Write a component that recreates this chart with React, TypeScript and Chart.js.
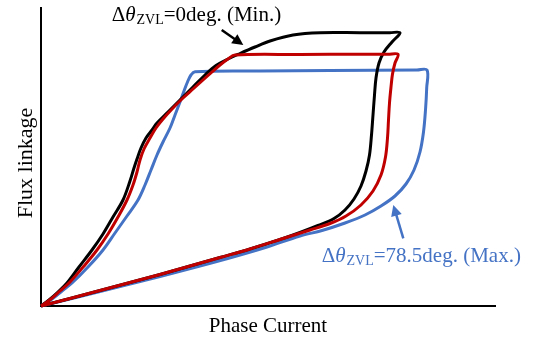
import React, { useEffect, useRef } from "react";
import { Chart, registerables } from "chart.js";

Chart.register(...registerables);

type Pt = [number, number];

// Axis extents (arbitrary units)
const xAxisMax = 454;
const yAxisMax = 298;

// Flux-linkage loops (phase current, flux linkage)
const blackLoop: Pt[] = [
  [0, 0], [8, 6], [17, 14], [26, 23], [38, 39], [51, 56], [62, 72], [72, 89], [82, 106],
  [89, 125], [93, 138], [96, 147], [100, 158], [105, 168], [111, 176], [116, 183],
  [127, 194], [139, 206], [152, 219], [164, 231], [175, 240.5], [187, 247], [199, 252.5],
  [214, 259], [229, 265], [252, 271], [279, 273.3], [319, 273.3], [349, 273.3], [359, 273.3],
  [351, 264], [343, 254], [338, 243], [335, 228], [333.5, 211], [332, 191], [330.5, 171],
  [328.5, 151], [325, 135], [320, 120], [313, 107], [304, 96], [293, 87.5], [277, 80.5],
  [259, 73.5], [242, 67.5], [209, 57], [179, 48.5], [149, 40], [119, 31.5], [89, 23.5],
  [59, 15.5], [29, 7.5], [0, 0],
];

const redLoop: Pt[] = [
  [0, 0], [10, 7], [19, 15], [29, 24], [43, 40], [56, 56], [67, 72], [77, 89], [86, 106],
  [92, 121], [96, 134], [99, 146], [103, 157], [109, 168], [115, 178], [122, 187],
  [132, 198], [142, 208], [152, 217], [162, 226], [171, 234], [179, 241], [187, 247],
  [194, 251], [259, 251.5], [319, 251.7], [347, 251.7], [357, 251.7],
  [354, 243], [351.5, 232], [350, 219], [348.5, 203], [347.5, 186], [346.5, 168],
  [344.5, 149], [340, 131], [332, 115], [320, 101], [305, 90], [289, 82.5], [269, 76],
  [242, 67.5], [209, 57], [179, 48.5], [149, 40], [119, 31.5], [89, 23.5], [59, 15.5],
  [29, 7.5], [0, 0],
];

const blueLoop: Pt[] = [
  [0, 0], [11, 7], [21, 15], [31, 23], [47, 39], [62, 56], [74, 73], [86, 90], [97, 106],
  [104, 121], [110, 136], [116, 151], [122, 164], [129, 178], [134, 191], [139, 204],
  [143, 215], [146.5, 224], [150, 231], [154, 234.2], [219, 235], [289, 235.5], [376, 236],
  [386, 236],
  [385.7, 218], [384.5, 196], [382.5, 174], [379, 154], [373, 136], [365, 122], [354, 110],
  [340, 100], [324, 91], [304, 83], [281, 75.5], [259, 70], [226, 59], [192, 49], [159, 40],
  [119, 29.5], [79, 19.5], [39, 9.5], [0, 0],
];

const xTitle = "Phase Current";
const yTitle = "Flux linkage";

const minLabel = { pre: "Δ", theta: "θ", sub: "ZVL", post: "=0deg. (Min.)" };
const maxLabel = { pre: "Δ", theta: "θ", sub: "ZVL", post: "=78.5deg. (Max.)" };

// Annotation anchors in data units
const minLabelAt: Pt = [70.7, 285.3];
const minArrow: [Pt, Pt] = [[180.7, 276], [202.3, 261]];
const maxLabelAt: Pt = [280.7, 44.3];
const maxArrow: [Pt, Pt] = [[362.3, 67.7], [352.3, 101]];

const BLACK = "#000000";
const RED = "#C00000";
const BLUE = "#4472C4";
const FONT = '"Liberation Serif", "Times New Roman", serif';

function drawLabel(ctx: CanvasRenderingContext2D, x: number, y: number, lab: any, color: string) {
  ctx.fillStyle = color;
  ctx.textAlign = "left";
  ctx.textBaseline = "alphabetic";
  ctx.font = `21px ${FONT}`;
  ctx.fillText(lab.pre, x, y);
  x += ctx.measureText(lab.pre).width;
  ctx.font = `italic 21px ${FONT}`;
  ctx.fillText(lab.theta, x, y);
  x += ctx.measureText(lab.theta).width + 1;
  ctx.font = `14px ${FONT}`;
  ctx.fillText(lab.sub, x, y + 3);
  x += ctx.measureText(lab.sub).width;
  ctx.font = `21px ${FONT}`;
  ctx.fillText(lab.post, x, y);
}

function drawArrow(ctx: CanvasRenderingContext2D, x1: number, y1: number, x2: number, y2: number, color: string) {
  const a = Math.atan2(y2 - y1, x2 - x1);
  const c = Math.cos(a), s = Math.sin(a);
  const hl = 11, hw = 5.5;
  ctx.strokeStyle = color;
  ctx.fillStyle = color;
  ctx.lineWidth = 2.5;
  ctx.beginPath();
  ctx.moveTo(x1, y1);
  ctx.lineTo(x2 - hl * 0.8 * c, y2 - hl * 0.8 * s);
  ctx.stroke();
  ctx.beginPath();
  ctx.moveTo(x2, y2);
  ctx.lineTo(x2 - hl * c + hw * s, y2 - hl * s - hw * c);
  ctx.lineTo(x2 - hl * c - hw * s, y2 - hl * s + hw * c);
  ctx.closePath();
  ctx.fill();
}

const annotPlugin = {
  id: "annot",
  afterDraw(chart: any) {
    const { ctx, chartArea, scales } = chart;
    const X = (v: number) => scales.x.getPixelForValue(v);
    const Y = (v: number) => scales.y.getPixelForValue(v);
    ctx.save();
    ctx.fillStyle = BLACK;
    ctx.font = `21px ${FONT}`;
    ctx.textAlign = "center";
    ctx.textBaseline = "alphabetic";
    ctx.fillText(xTitle, (chartArea.left + chartArea.right) / 2, chartArea.bottom + 25.7);
    ctx.save();
    ctx.font = `22px ${FONT}`;
    ctx.translate(chartArea.left - 9.5, chartArea.top + 155);
    ctx.rotate(-Math.PI / 2);
    ctx.fillText(yTitle, 0, 0);
    ctx.restore();

    drawLabel(ctx, X(minLabelAt[0]), Y(minLabelAt[1]), minLabel, BLACK);
    drawArrow(ctx, X(minArrow[0][0]), Y(minArrow[0][1]), X(minArrow[1][0]), Y(minArrow[1][1]), BLACK);
    drawLabel(ctx, X(maxLabelAt[0]), Y(maxLabelAt[1]), maxLabel, BLUE);
    drawArrow(ctx, X(maxArrow[0][0]), Y(maxArrow[0][1]), X(maxArrow[1][0]), Y(maxArrow[1][1]), BLUE);
    ctx.restore();
  },
};

const toData = (pts: Pt[]) => pts.map(([x, y]) => ({ x, y }));

export default function App() {
  const ref = useRef<HTMLCanvasElement | null>(null);
  useEffect(() => {
    if (!ref.current) return;
    const mk = (data: Pt[], color: string) => ({
      data: toData(data),
      showLine: true,
      borderColor: color,
      backgroundColor: color,
      borderWidth: 3,
      pointRadius: 0,
      tension: 0.35,
      fill: false,
      clip: false as any,
    });
    const axis = (max: number) => ({
      type: "linear" as const,
      min: 0,
      max,
      ticks: { display: false },
      grid: { display: false, drawTicks: false },
      border: { display: true, color: BLACK, width: 2 },
      title: { display: false },
    });
    const chart = new Chart(ref.current, {
      type: "scatter",
      data: {
        datasets: [mk(redLoop, RED), mk(blackLoop, BLACK), mk(blueLoop, BLUE)],
      },
      options: {
        responsive: false,
        animation: false,
        layout: { padding: { left: 41, right: 46, top: 8, bottom: 32 } },
        plugins: { legend: { display: false }, tooltip: { enabled: false } },
        scales: { x: axis(xAxisMax), y: axis(yAxisMax) },
      },
      plugins: [annotPlugin],
    });
    return () => chart.destroy();
  }, []);
  return (
    <div style={{ position: "absolute", left: 0, top: 0, width: 541, height: 338, background: "#fff" }}>
      <canvas ref={ref} width={541} height={338} style={{ display: "block" }} />
    </div>
  );
}
